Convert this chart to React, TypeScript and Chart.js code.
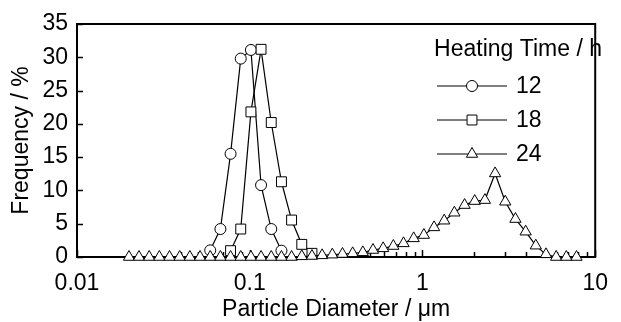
import { useEffect, useRef } from 'react';
import { Chart, registerables } from 'chart.js';

Chart.register(...registerables);

// Particle diameter bins (µm)
const diameters = [
  0.0200, 0.02285, 0.02617, 0.02997, 0.03432, 0.03931, 0.04502, 0.05157, 0.05906, 0.06764,
  0.07745, 0.08870, 0.1016, 0.1163, 0.1332, 0.1526, 0.1747, 0.2001, 0.2292, 0.2625,
  0.3006, 0.3443, 0.3943, 0.4515, 0.5171, 0.5922, 0.6782, 0.7767, 0.8896, 1.019,
  1.167, 1.336, 1.530, 1.753, 2.007, 2.299, 2.633, 3.015, 3.453, 3.955,
  4.529, 5.187, 5.941, 6.804, 7.792,
];

// Frequency (%) for heating time 12 h
const freq12h: (number | null)[] = [
  null, null, null, null, null, null, null, null, 1.0, 4.2,
  15.5, 29.8, 31.1, 10.8, 4.2, 0.95, null, null, null, null,
  null, null, null, null, null, null, null, null, null, null,
  null, null, null, null, null, null, null, null, null, null,
  null, null, null, null, null,
];

// Frequency (%) for heating time 18 h
const freq18h: (number | null)[] = [
  null, null, null, null, null, null, null, null, null, null,
  0.95, 4.2, 21.8, 31.2, 20.2, 11.3, 5.55, 1.9, 0.55, null,
  null, null, null, null, null, null, null, null, null, null,
  null, null, null, null, null, null, null, null, null, null,
  null, null, null, null, null,
];

// Frequency (%) for heating time 24 h
const freq24h: (number | null)[] = [
  0, 0, 0, 0, 0, 0, 0, 0, 0, 0,
  0, 0, 0, 0, 0, 0, 0, 0.1, 0.15, 0.25,
  0.35, 0.45, 0.55, 0.7, 1.05, 1.3, 1.65, 2.05, 2.8, 3.3,
  4.45, 5.45, 6.65, 7.8, 8.4, 8.55, 12.55, 8.3, 5.7, 3.8,
  1.7, 0.4, 0, 0, 0,
];

const seriesLabels = ['12', '18', '24'];
const legendTitle = 'Heating Time / h';
const xTitle = 'Particle Diameter / \u03bcm';
const yTitle = 'Frequency / %';
const xTickValues = [
  0.01, 0.02, 0.03, 0.04, 0.05, 0.06, 0.07, 0.08, 0.09,
  0.1, 0.2, 0.3, 0.4, 0.5, 0.6, 0.7, 0.8, 0.9,
  1, 2, 3, 4, 5, 6, 7, 8, 9, 10,
];
const xMajorLabels = ['0.01', '0.1', '1', '10'];

const FONT = "'Liberation Sans', Arial, Helvetica, sans-serif";
const FONT_SIZE = 23;

function toPoints(values: (number | null)[]) {
  const pts: { x: number; y: number }[] = [];
  values.forEach((v, i) => {
    if (v !== null) pts.push({ x: diameters[i], y: v });
  });
  return pts;
}

function isMajor(v: number) {
  const l = Math.log10(v);
  return Math.abs(l - Math.round(l)) < 1e-6;
}

function drawMarker(ctx: CanvasRenderingContext2D, style: string, x: number, y: number, r: number) {
  ctx.beginPath();
  if (style === 'circle') {
    ctx.arc(x, y, r, 0, Math.PI * 2);
  } else if (style === 'rect') {
    const s = r * Math.SQRT1_2;
    ctx.rect(x - s, y - s, 2 * s, 2 * s);
  } else {
    let rad = 0;
    ctx.moveTo(x + Math.sin(rad) * r, y - Math.cos(rad) * r);
    rad += (2 * Math.PI) / 3;
    ctx.lineTo(x + Math.sin(rad) * r, y - Math.cos(rad) * r);
    rad += (2 * Math.PI) / 3;
    ctx.lineTo(x + Math.sin(rad) * r, y - Math.cos(rad) * r);
    ctx.closePath();
  }
  ctx.fill();
  ctx.stroke();
}

export default function App() {
  const ref = useRef<HTMLCanvasElement>(null);

  useEffect(() => {
    document.body.style.margin = '0';
    const canvas = ref.current;
    if (!canvas) return;

    const styles = ['circle', 'rect', 'triangle'];
    const radii = [5.5, 7, 6.5];
    const seriesData = [freq12h, freq18h, freq24h];

    const framePlugin = {
      id: 'frameTicks',
      beforeDatasetsDraw(chart: any) {
        const { ctx, chartArea } = chart;
        const { left, right, top, bottom } = chartArea;
        ctx.save();
        ctx.strokeStyle = '#000';
        ctx.lineWidth = 2;
        ctx.strokeRect(left, top, right - left, bottom - top);
        ctx.lineWidth = 1.5;
        const xs = chart.scales.x;
        xs.ticks.forEach((t: any) => {
          const px = Math.round(xs.getPixelForValue(t.value)) + 0.5;
          const len = isMajor(t.value) ? 7 : 5;
          ctx.beginPath();
          ctx.moveTo(px, bottom);
          ctx.lineTo(px, bottom - len);
          ctx.stroke();
        });
        const ys = chart.scales.y;
        ys.ticks.forEach((t: any) => {
          const py = Math.round(ys.getPixelForValue(t.value)) + 0.5;
          ctx.beginPath();
          ctx.moveTo(left, py);
          ctx.lineTo(left + 6, py);
          ctx.stroke();
        });
        ctx.restore();
      },
      afterDatasetsDraw(chart: any) {
        const { ctx } = chart;
        ctx.save();
        ctx.fillStyle = '#000';
        ctx.font = `${FONT_SIZE}px ${FONT}`;
        ctx.textBaseline = 'middle';
        ctx.textAlign = 'right';
        ctx.fillText(legendTitle, 602, 50);
        const rowY = [86, 120, 154];
        seriesLabels.forEach((lab, i) => {
          const y = rowY[i];
          ctx.strokeStyle = '#000';
          ctx.lineWidth = 1;
          ctx.beginPath();
          ctx.moveTo(437, y);
          ctx.lineTo(507, y);
          ctx.stroke();
          ctx.fillStyle = '#fff';
          drawMarker(ctx, styles[i], 472, y, radii[i]);
          ctx.fillStyle = '#000';
          ctx.textAlign = 'left';
          ctx.fillText(lab, 516, y + 1);
        });
        ctx.restore();
      },
    };

    const chart = new Chart(canvas, {
      type: 'scatter',
      data: {
        datasets: seriesData.map((arr, i) => ({
          label: seriesLabels[i],
          data: toPoints(arr),
          showLine: true,
          borderColor: '#000',
          borderWidth: 1.2,
          pointStyle: styles[i] as any,
          pointRadius: radii[i],
          pointBackgroundColor: '#fff',
          pointBorderColor: '#000',
          pointBorderWidth: 1,
          clip: false as any,
          order: 3 - i,
        })),
      },
      options: {
        responsive: false,
        devicePixelRatio: 1,
        animation: false,
        layout: { padding: { top: 24, right: 16, left: 0, bottom: 0 } },
        font: { family: FONT, size: FONT_SIZE },
        plugins: {
          legend: { display: false },
          tooltip: { enabled: false },
        },
        scales: {
          x: {
            type: 'logarithmic',
            min: 0.01,
            max: 10,
            afterBuildTicks: (scale: any) => {
              scale.ticks = xTickValues.map((v) => ({ value: v, major: isMajor(v) }));
            },
            afterFit: (scale: any) => {
              scale.height = 65;
            },
            grid: { display: false, drawTicks: false },
            border: { display: false },
            ticks: {
              autoSkip: false,
              maxRotation: 0,
              padding: 13,
              color: '#000',
              font: { family: FONT, size: FONT_SIZE },
              callback: (v: any) => {
                const val = Number(v);
                if (!isMajor(val)) return '';
                const idx = Math.round(Math.log10(val)) + 2;
                return xMajorLabels[idx] ?? '';
              },
            },
            title: {
              display: true,
              text: xTitle,
              color: '#000',
              font: { family: FONT, size: FONT_SIZE, lineHeight: 1 },
              padding: { top: 0, bottom: 1 },
            },
          },
          y: {
            min: 0,
            max: 35,
            afterFit: (scale: any) => {
              scale.width = 77;
            },
            grid: { display: false, drawTicks: false },
            border: { display: false },
            ticks: {
              stepSize: 5,
              padding: 9,
              color: '#000',
              font: { family: FONT, size: FONT_SIZE },
            },
            title: {
              display: true,
              text: yTitle,
              color: '#000',
              font: { family: FONT, size: FONT_SIZE, lineHeight: 1 },
              padding: { top: 10, bottom: 0 },
            },
          },
        },
      },
      plugins: [framePlugin],
    });

    return () => chart.destroy();
  }, []);

  return (
    <canvas
      ref={ref}
      width={621}
      height={322}
      style={{ display: 'block', width: 621, height: 322 }}
    />
  );
}
